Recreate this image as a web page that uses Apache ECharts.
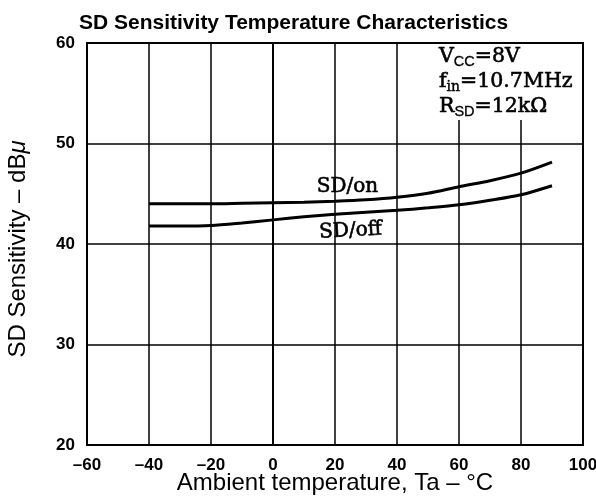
<!DOCTYPE html>
<html>
<head>
<meta charset="utf-8">
<style>
  html, body { margin: 0; padding: 0; background: #fff; }
  #chart { width: 596px; height: 496px; }
</style>
<script src="https://cdn.jsdelivr.net/npm/echarts@6/dist/echarts.min.js"></script>
</head>
<body>
<div id="chart"></div>
<script>
// Ambient temperature (°C) sample points
var temps = [-40, -30, -20, -10, 0, 10, 20, 30, 40, 50, 60, 70, 80, 90];
// SD sensitivity (dBμ) with SD on / SD off
var sdOn  = [44.0, 44.0, 44.0, 44.05, 44.1, 44.15, 44.25, 44.4, 44.65, 45.05, 45.7, 46.3, 47.05, 48.15];
var sdOff = [41.8, 41.8, 41.85, 42.1, 42.4, 42.7, 42.95, 43.15, 43.35, 43.6, 43.9, 44.35, 44.9, 45.8];

// Axis ranges and ticks
var xTicks = [-60, -40, -20, 0, 20, 40, 60, 80, 100];
var yTicks = [20, 30, 40, 50, 60];

// Curve label anchors [temperature, dBμ]
var onLabelAt = [24, 45.65];
var offLabelAt = [25, 41.3];

// Measurement conditions
var conditions = '{m|V}{ss|CC}{m|=8V}\n{m|f}{sf|in}{m|=10.7MHz}\n{m|R}{ss|SD}{m|=12k\u03A9}';

function pairs(xs, ys) {
  return xs.map(function (x, i) { return [x, ys[i]]; });
}

function tickText(v) {
  return String(v).replace('-', '\u2013');
}

var serif = '"DejaVu Serif", serif';
var sans = '"Liberation Sans", Arial, sans-serif';
var labelFont = {
  fontFamily: serif, fontSize: 20, color: '#000',
  textBorderColor: '#000', textBorderWidth: 0.6
};

var chart = echarts.init(document.getElementById('chart'));
chart.setOption({
  animation: false,
  backgroundColor: '#fff',
  title: {
    text: 'SD Sensitivity Temperature Characteristics',
    left: 74,
    top: 8,
    textStyle: { fontFamily: sans, fontWeight: 'bold', fontSize: 21, color: '#000' }
  },
  graphic: [
    {
      type: 'rect',
      z: 50,
      shape: { x: 425, y: 44, width: 156, height: 76 },
      style: { fill: '#fff' }
    },
    {
      type: 'text',
      z: 51,
      x: 439,
      y: 44,
      style: {
        text: conditions,
        align: 'left',
        verticalAlign: 'top',
        fill: '#000',
        rich: {
          m: { fontFamily: serif, fontSize: 20.5, lineHeight: 25, fill: '#000', stroke: '#000', lineWidth: 0.6, verticalAlign: 'middle' },
          ss: { fontFamily: sans, fontSize: 14.5, lineHeight: 14, fill: '#000', stroke: '#000', lineWidth: 0.3, verticalAlign: 'bottom' },
          sf: { fontFamily: serif, fontSize: 14, lineHeight: 14, fill: '#000', stroke: '#000', lineWidth: 0.4, verticalAlign: 'bottom' }
        }
      }
    }
  ],
  grid: {
    left: 87, right: 13, top: 43, bottom: 51,
    outerBoundsMode: 'none',
    containLabel: false,
    show: true, borderColor: '#000', borderWidth: 2
  },
  xAxis: {
    type: 'value',
    min: xTicks[0], max: xTicks[xTicks.length - 1], interval: 20,
    name: 'Ambient temperature, Ta \u2013 \u00B0C',
    nameLocation: 'middle',
    nameGap: 26,
    nameMoveOverlap: false,
    nameTextStyle: { fontFamily: sans, fontSize: 24, color: '#000' },
    axisLine: { lineStyle: { color: '#000', width: 2 } },
    axisTick: { show: false },
    axisLabel: {
      margin: 12, formatter: tickText,
      fontFamily: sans, fontWeight: 'bold', fontSize: 17, color: '#000'
    },
    splitLine: { show: true, lineStyle: { color: '#000', width: 1.5 } }
  },
  yAxis: {
    type: 'value',
    min: yTicks[0], max: yTicks[yTicks.length - 1], interval: 10,
    name: 'SD Sensitivity \u2013 dB{mu|\u03BC}',
    nameLocation: 'middle',
    nameGap: 57,
    nameMoveOverlap: false,
    nameTextStyle: {
      fontFamily: sans, fontSize: 24, color: '#000',
      padding: [0, 10, 0, 0],
      rich: { mu: { fontFamily: sans, fontSize: 24, fontStyle: 'italic', color: '#000' } }
    },
    axisLine: { lineStyle: { color: '#000', width: 2 } },
    axisTick: { show: false },
    axisLabel: {
      margin: 12, formatter: tickText,
      fontFamily: sans, fontWeight: 'bold', fontSize: 17, color: '#000'
    },
    splitLine: { show: true, lineStyle: { color: '#000', width: 1.5 } }
  },
  series: [
    {
      name: 'SD/on',
      type: 'line',
      data: pairs(temps, sdOn),
      smooth: 0.3,
      showSymbol: false,
      lineStyle: { color: '#000', width: 3 },
      markPoint: {
        symbol: 'circle', symbolSize: 0, silent: true,
        label: Object.assign({ show: true, position: 'inside', formatter: 'SD/on' }, labelFont),
        data: [{ coord: onLabelAt }]
      }
    },
    {
      name: 'SD/off',
      type: 'line',
      data: pairs(temps, sdOff),
      smooth: 0.3,
      showSymbol: false,
      lineStyle: { color: '#000', width: 3 },
      markPoint: {
        symbol: 'circle', symbolSize: 0, silent: true,
        label: Object.assign({ show: true, position: 'inside', formatter: 'SD/off', rotate: 3 }, labelFont),
        data: [{ coord: offLabelAt }]
      }
    }
  ]
});
</script>
</body>
</html>
